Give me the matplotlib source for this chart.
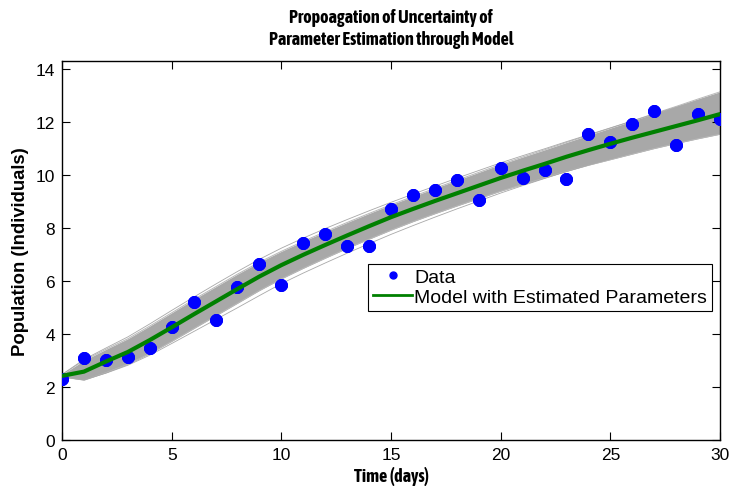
import numpy as np
import matplotlib
matplotlib.use("Agg")
from matplotlib import pyplot as plt
from matplotlib import font_manager as fm
from matplotlib import patheffects as pe
from matplotlib.lines import Line2D

# observed data (days 0..30)
days = np.arange(0, 31)
population = [2.30, 3.11, 3.00, 3.15, 3.46, 4.28, 5.21, 4.51, 5.78, 6.66,
              5.85, 7.42, 7.79, 7.31, 7.31, 8.73, 9.24, 9.43, 9.82, 9.06,
              10.28, 9.90, 10.18, 9.86, 11.55, 11.26, 11.94, 12.41, 11.15, 12.32,
              12.11]

# model with estimated parameters
model = [2.42, 2.58, 2.96, 3.32, 3.77, 4.25, 4.74, 5.22, 5.70, 6.17,
         6.60, 6.99, 7.36, 7.72, 8.07, 8.41, 8.72, 9.02, 9.31, 9.60,
         9.89, 10.16, 10.42, 10.69, 10.94, 11.18, 11.41, 11.63, 11.85, 12.07,
         12.30]

# envelope of the simulated curves (grey band)
band_upper = [2.47, 3.00, 3.42, 3.82, 4.30, 4.80, 5.30, 5.78, 6.26, 6.71,
              7.12, 7.50, 7.86, 8.21, 8.55, 8.88, 9.19, 9.50, 9.80, 10.10,
              10.40, 10.68, 10.95, 11.23, 11.50, 11.77, 12.04, 12.32, 12.59, 12.87,
              13.14]
band_lower = [2.38, 2.26, 2.54, 2.86, 3.26, 3.72, 4.20, 4.68, 5.16, 5.64,
              6.08, 6.48, 6.86, 7.23, 7.58, 7.92, 8.24, 8.54, 8.83, 9.11,
              9.39, 9.64, 9.89, 10.14, 10.37, 10.58, 10.79, 11.00, 11.19, 11.37,
              11.54]
# a few stray simulated curves just outside the band
stray_upper = [2.47, 3.04, 3.47, 3.89, 4.38, 4.89, 5.39, 5.88, 6.36, 6.82,
               7.24, 7.62, 7.98, 8.32, 8.65, 8.97, 9.28, 9.58, 9.88, 10.17,
               10.46, 10.73, 10.99, 11.26, 11.52, 11.78, 12.04, 12.30, 12.56, 12.82,
               13.08]
stray_lower = [2.38, 2.27, 2.52, 2.82, 3.20, 3.64, 4.09, 4.54, 4.99, 5.45,
               5.90, 6.30, 6.68, 7.05, 7.41, 7.76, 8.09, 8.41, 8.72, 9.02,
               9.32, 9.60, 9.87, 10.13, 10.38, 10.61, 10.84, 11.06, 11.27, 11.47,
               11.66]


def is_bold(f):
    w = f.weight
    if isinstance(w, str):
        return 'bold' in w.lower() or w.lower() in ('heavy', 'black')
    return w >= 600


# MATLAB exported this with a narrow Helvetica; use a narrow face if one is there
base = ['Liberation Sans', 'DejaVu Sans']
narrow_fonts = [f for f in fm.fontManager.ttflist
                if 'Narrow' in f.name or 'Condensed' in f.name]
bold_narrow = [f for f in narrow_fonts if is_bold(f)]
if bold_narrow:
    label_kw = dict(family=[bold_narrow[0].name] + base, fontweight='bold')
    label_size = 13
elif narrow_fonts:
    # fake the bold with a thin stroke round the regular narrow face
    label_kw = dict(family=[narrow_fonts[0].name] + base,
                    path_effects=[pe.withStroke(linewidth=0.75, foreground='black')])
    label_size = 13
else:
    label_kw = dict(family=base, fontweight='bold')
    label_size = 11.5
plt.rcParams['font.family'] = base

fig = plt.figure(figsize=(7.33, 4.89), dpi=100)
ax = fig.add_axes([0.0846, 0.0982, 0.8977, 0.7748])

ax.fill_between(days, band_lower, band_upper, color='#a8a8a8', lw=0)
ax.plot(days, band_upper, color='#b8b8b8', lw=0.7)
ax.plot(days, band_lower, color='#b8b8b8', lw=0.7)
ax.plot(days, stray_upper, color='#a8a8a8', lw=0.6)
ax.plot(days, stray_lower, color='#a8a8a8', lw=0.6)

ax.plot(days, population, linestyle='none', marker=(8, 2, 0), ms=9,
        mew=3, color='#0000ff', zorder=4)
ax.plot(days, model, color='#008000', lw=3, zorder=5)

ax.set_xlim(0, 30)
ax.set_ylim(0, 14.3)
ax.set_xticks(range(0, 31, 5))
ax.set_yticks(range(0, 15, 2))
ax.tick_params(direction='in', top=True, right=True, length=6, labelsize=12.5, pad=5)
for s in ax.spines.values():
    s.set_linewidth(1)

ax.set_title("Propoagation of Uncertainty of\nParameter Estimation through Model",
             fontsize=label_size, linespacing=1.3, pad=12, **label_kw)
ax.set_xlabel("Time (days)", fontsize=label_size, labelpad=3, **label_kw)
# the rotated label is wider in the original, a plain bold face fits it
ax.set_ylabel("Population (Individuals)", fontsize=13.3, fontweight='bold',
              family=base, labelpad=5)

handles = [Line2D([], [], linestyle='none', marker='o', ms=5, color='#0000ff'),
           Line2D([], [], color='#008000', lw=2)]
leg = ax.legend(handles, ["Data", "Model with Estimated Parameters"],
                loc='upper left', bbox_to_anchor=(0.4655, 0.465), borderaxespad=0,
                fancybox=False, framealpha=1, edgecolor='black',
                handlelength=2.0, handletextpad=0.1, borderpad=0.25,
                labelspacing=0.1, prop={'family': base, 'size': 14})
leg.get_frame().set_linewidth(0.8)

plt.savefig("out.png", dpi=100)
